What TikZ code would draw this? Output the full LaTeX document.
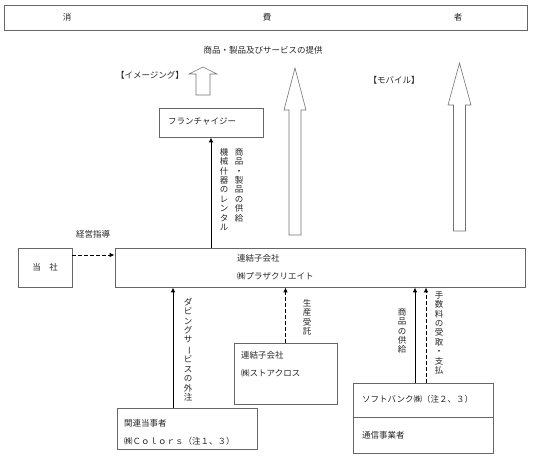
\documentclass[tikz,border=0pt]{standalone}
\usepackage{fontspec}
\setmainfont{Noto Sans CJK JP}
\usepackage{graphicx}
\usetikzlibrary{arrows.meta}
\newcommand{\VB}{\rotatebox[origin=c]{-90}{ー}}

\begin{document}
\begin{tikzpicture}[x=1pt, y=-1pt,
  txt/.style={text=black!85, inner sep=0pt, font=\fontsize{8.5}{10}\selectfont},
  box/.style={txt, draw=black!60, line width=0.8pt},
  tate/.style={txt, align=center, anchor=north, font=\fontsize{8.5}{9.4}\selectfont},
  arr/.style={-{Latex[length=5pt,width=4.5pt]}, line width=0.9pt},
  darr/.style={arr, dash pattern=on 3.5pt off 2.5pt},
  blk/.style={draw=black!55, line width=0.6pt, fill=white}]

  \useasboundingbox (0,0) rectangle (533,462);

  %% consumers
  \node[box, minimum width=523pt, minimum height=25pt] (cons) at (265.5,17.5) {};
  \node[txt] (consA) at (67,17) {消};
  \node[txt] (consB) at (267,17) {費};
  \node[txt] (consC) at (458,17) {者};

  \node[txt] (teikyo) at (263,50) {商品・製品及びサービスの提供};
  \node[txt] (imaging) at (150,75) {【イメージング】};
  \node[txt] (mobile) at (394,80) {【モバイル】};

  %% block arrows
  \draw[blk] (203,67) -- (217,74) -- (210,74) -- (210,95) -- (196,95) -- (196,74) -- (189,74) -- cycle; % imaging
  \draw[blk] (295,68) -- (306,110) -- (301,110) -- (301,235) -- (289,235) -- (289,110) -- (284,110) -- cycle;
  \draw[blk] (459.5,63) -- (471,105) -- (465.5,105) -- (465.5,231) -- (453.5,231) -- (453.5,105) -- (448,105) -- cycle; % mobile

  %% boxes
  \node[box, minimum width=104pt, minimum height=29pt] (fran) at (211,122.5) {};
  \node[txt, anchor=west] (franlbl) at (168,122) {フランチャイジー};

  \node[box, minimum width=54pt, minimum height=39pt] (tosha) at (45,267.5) {当　社};

  \node[box, minimum width=410pt, minimum height=39pt] (main) at (320,267.5) {};
  \node[txt, anchor=west] (mainA) at (237,258) {連結子会社};
  \node[txt, anchor=west] (mainB) at (237,276) {㈱プラザクリエイト};

  \node[box, minimum width=103pt, minimum height=61pt] (store) at (285.5,373.5) {};
  \node[txt, anchor=west] (storeA) at (241,355) {連結子会社};
  \node[txt, anchor=west] (storeB) at (241,373) {㈱ストアクロス};

  \node[box, minimum width=140pt, minimum height=41pt] (colors) at (187,428.5) {};
  \node[txt, anchor=west] (colorsA) at (124,423) {関連当事者};
  \node[txt, anchor=west] (colorsB) at (124,441) {㈱Ｃｏｌｏｒｓ（注１、３）};

  \node[box, minimum width=140pt, minimum height=34pt] (sbA) at (423,400) {};
  \node[box, minimum width=140pt, minimum height=36pt] (sbB) at (423,435) {};
  \node[txt, anchor=west] (sbAlbl) at (362,399) {ソフトバンク㈱（注２、３）};
  \node[txt, anchor=west] (sbBlbl) at (362,435) {通信事業者};

  %% connectors
  \coordinate (k0) at ([yshift=12.5pt]tosha.east);
  \draw[darr] (k0) -- (k0 -| main.west);
  \node[txt] (keiei) at (93,234) {経営指導};

  \draw[arr] (fran.south |- main.north) -- (fran.south);
  \node[tate] (franA) at (239,148) {商\\品\\・\\製\\品\\の\\供\\給};
  \node[tate] (franB) at (224,148) {機\\械\\什\\器\\の\\レ\\ン\\タ\\ル};

  \coordinate (c0) at ([xshift=-14pt]colors.north);
  \draw[arr] (c0) -- (c0 |- main.south);
  \node[tate] (dub) at (188,298) {ダ\\ビ\\ン\\グ\\サ\\\VB\\ビ\\ス\\の\\外\\注};

  \draw[darr] (store.north) -- (store.north |- main.south);
  \node[tate] (seisan) at (307,299) {生\\産\\受\\託};

  \coordinate (s0) at ([xshift=-8pt]sbA.north);
  \coordinate (s1) at ([xshift=3pt]sbA.north);
  \draw[arr] (s0) -- (s0 |- main.south);
  \draw[darr] (s1) -- (s1 |- main.south);
  \node[tate] (kyokyu) at (402,308) {商\\品\\の\\供\\給};
  \node[tate] (tesuu) at (439,291) {手\\数\\料\\の\\受\\取\\・\\支\\払};

\end{tikzpicture}
\end{document}
